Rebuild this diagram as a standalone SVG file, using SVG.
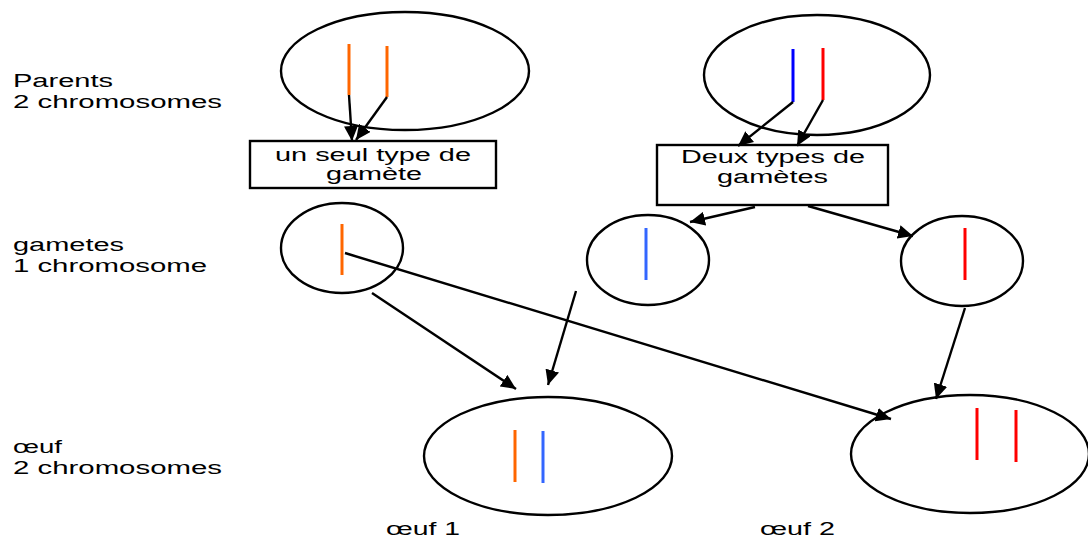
<svg xmlns="http://www.w3.org/2000/svg" width="1088" height="538" viewBox="0 0 1088 538">
  <defs>
    <marker id="arrow" markerUnits="userSpaceOnUse" markerWidth="16" markerHeight="14" refX="15" refY="7" orient="auto">
      <path d="M0,0 L15,7 L0,14 z" fill="#000"/>
    </marker>
  </defs>
  <style>
    .cell { fill: #fff; stroke: #000; stroke-width: 2.4; }
    .box { fill: #fff; stroke: #000; stroke-width: 2.4; }
    .lbl { font-family: "Liberation Sans", Arial, sans-serif; font-size: 18px; fill: #000; }
    .mid { text-anchor: middle; }
    .chr { stroke-width: 3; fill: none; }
    .or { stroke: #ff6600; }
    .bl { stroke: #0000ff; }
    .bl2 { stroke: #3366ff; }
    .rd { stroke: #ff0000; }
    .edge { stroke: #000; stroke-width: 2.4; fill: none; marker-end: url(#arrow); }
  </style>
  <rect width="1088" height="538" fill="#fff"/>

  <!-- row labels -->
  <g id="row-labels" class="lbl">
    <text x="13" y="87" textLength="100" lengthAdjust="spacingAndGlyphs">Parents</text>
    <text x="13" y="108" textLength="209" lengthAdjust="spacingAndGlyphs">2 chromosomes</text>
    <text x="13" y="251" textLength="111" lengthAdjust="spacingAndGlyphs">gametes</text>
    <text x="13" y="272" textLength="194" lengthAdjust="spacingAndGlyphs">1 chromosome</text>
    <text x="13" y="453" textLength="49" lengthAdjust="spacingAndGlyphs">œuf</text>
    <text x="13" y="474" textLength="209" lengthAdjust="spacingAndGlyphs">2 chromosomes</text>
    <text x="386" y="535" textLength="74" lengthAdjust="spacingAndGlyphs">œuf 1</text>
    <text x="760" y="535" textLength="75" lengthAdjust="spacingAndGlyphs">œuf 2</text>
  </g>

  <!-- parent cells -->
  <g id="parent1">
    <ellipse class="cell" cx="405" cy="71" rx="124" ry="59"/>
    <line class="chr or" x1="349" y1="44" x2="349" y2="95"/>
    <line class="chr or" x1="387" y1="46" x2="387" y2="97"/>
  </g>
  <g id="parent2">
    <ellipse class="cell" cx="817" cy="75" rx="113" ry="60"/>
    <line class="chr bl" x1="793" y1="49" x2="793" y2="102"/>
    <line class="chr rd" x1="823" y1="48" x2="823" y2="100"/>
  </g>

  <!-- gamete type boxes -->
  <g id="box-one-type">
    <rect class="box" x="250" y="141" width="246" height="47"/>
    <text class="lbl" x="275" y="161" textLength="196" lengthAdjust="spacingAndGlyphs">un seul type de</text>
    <text class="lbl" x="326" y="180" textLength="96" lengthAdjust="spacingAndGlyphs">gamète</text>
  </g>
  <g id="box-two-types">
    <rect class="box" x="657" y="145" width="231" height="60"/>
    <text class="lbl" x="681" y="163" textLength="184" lengthAdjust="spacingAndGlyphs">Deux types de</text>
    <text class="lbl" x="717" y="183" textLength="111" lengthAdjust="spacingAndGlyphs">gamètes</text>
  </g>

  <!-- gametes -->
  <g id="gamete-orange">
    <ellipse class="cell" cx="342" cy="248" rx="61" ry="45"/>
    <line class="chr or" x1="342" y1="224" x2="342" y2="275"/>
  </g>
  <g id="gamete-blue">
    <ellipse class="cell" cx="648" cy="260" rx="61" ry="45"/>
    <line class="chr bl2" x1="646" y1="228" x2="646" y2="280"/>
  </g>
  <g id="gamete-red">
    <ellipse class="cell" cx="962" cy="261" rx="61" ry="45"/>
    <line class="chr rd" x1="965" y1="228" x2="965" y2="280"/>
  </g>

  <!-- eggs -->
  <g id="egg1">
    <ellipse class="cell" cx="548" cy="456" rx="124" ry="59"/>
    <line class="chr or" x1="515" y1="430" x2="515" y2="482"/>
    <line class="chr bl2" x1="543" y1="431" x2="543" y2="483"/>
  </g>
  <g id="egg2">
    <ellipse class="cell" cx="970" cy="454" rx="119" ry="59"/>
    <line class="chr rd" x1="977" y1="408" x2="977" y2="460"/>
    <line class="chr rd" x1="1016" y1="410" x2="1016" y2="462"/>
  </g>

  <!-- connectors -->
  <g id="connectors">
    <line class="edge" x1="349" y1="95" x2="352" y2="141"/>
    <line class="edge" x1="387" y1="97" x2="356" y2="140"/>
    <line class="edge" x1="793" y1="102" x2="738" y2="146"/>
    <line class="edge" x1="823" y1="100" x2="797" y2="146"/>
    <line class="edge" x1="755" y1="207" x2="690" y2="222"/>
    <line class="edge" x1="808" y1="206" x2="913" y2="236"/>
    <line class="edge" x1="372" y1="293" x2="516" y2="389"/>
    <line class="edge" x1="576" y1="291" x2="548" y2="385"/>
    <line class="edge" x1="345" y1="253" x2="891" y2="419"/>
    <line class="edge" x1="965" y1="308" x2="936" y2="399"/>
  </g>
</svg>
